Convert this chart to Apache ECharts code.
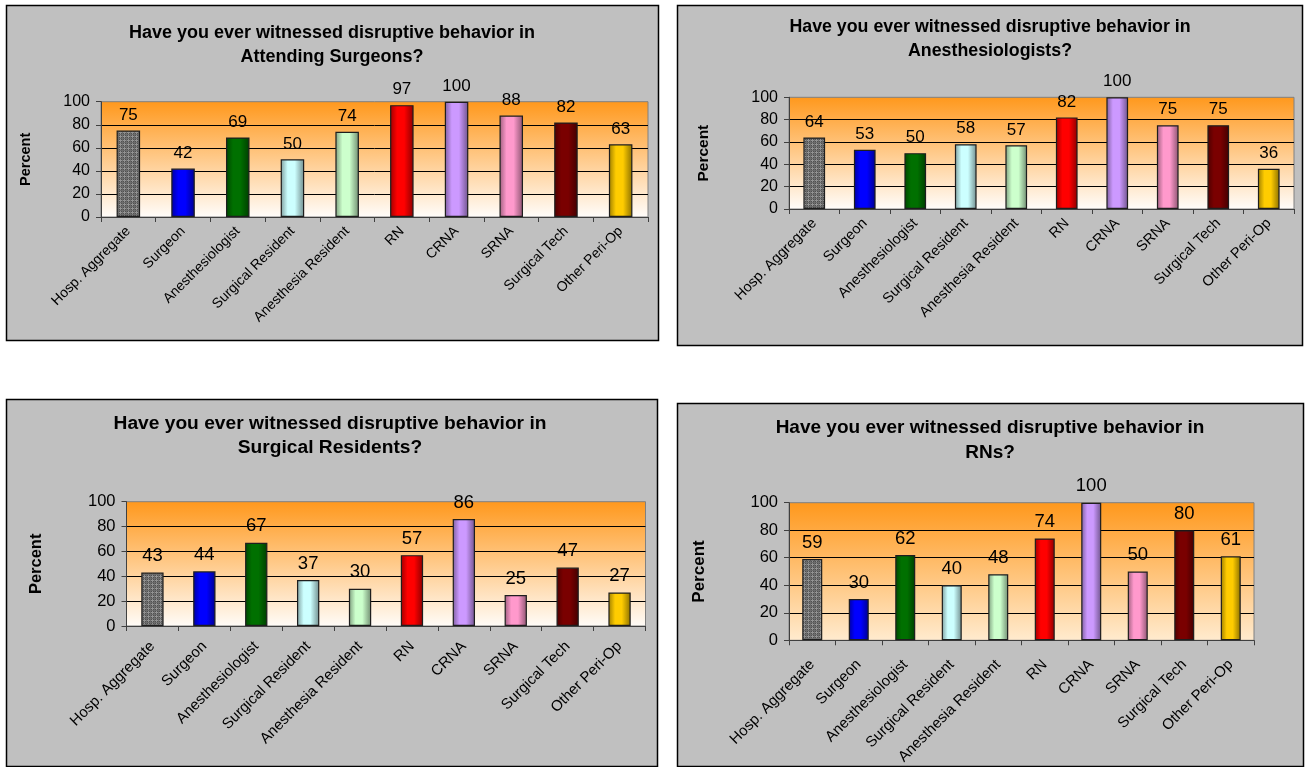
<!DOCTYPE html>
<html>
<head>
<meta charset="utf-8">
<title>Disruptive behavior survey</title>
<script src="https://cdn.jsdelivr.net/npm/echarts@6/dist/echarts.min.js"></script>
<style>
  html, body { margin: 0; padding: 0; background: #ffffff; }
  #chart { width: 1305px; height: 767px; }
</style>
</head>
<body>
<div id="chart"></div>
<script>
// ---- data ----
const categories = ['Hosp. Aggregate', 'Surgeon', 'Anesthesiologist', 'Surgical Resident',
  'Anesthesia Resident', 'RN', 'CRNA', 'SRNA', 'Surgical Tech', 'Other Peri-Op'];

const attendingSurgeons = [75, 42, 69, 50, 74, 97, 100, 88, 82, 63];
const anesthesiologists = [64, 53, 50, 58, 57, 82, 100, 75, 75, 36];
const surgicalResidents = [43, 44, 67, 37, 30, 57, 86, 25, 47, 27];
const registeredNurses  = [59, 30, 62, 40, 48, 74, 100, 50, 80, 61];

const chartTitles = [
  'Have you ever witnessed disruptive behavior in\nAttending Surgeons?',
  'Have you ever witnessed disruptive behavior in\nAnesthesiologists?',
  'Have you ever witnessed disruptive behavior in\nSurgical Residents?',
  'Have you ever witnessed disruptive behavior in\nRNs?'
];
const yAxisName = 'Percent';
const yMin = 0, yMax = 100, yStep = 20;

// ---- styling ----
const FONT = '"Liberation Sans", Arial, Helvetica, sans-serif';
const barColors = ['#5a5a5a', '#0000ff', '#007000', '#ccffff', '#ccffcc',
  '#ff0000', '#cc99ff', '#ff99cc', '#7a0000', '#ffcc00'];

function shade(hex, f) {
  const n = parseInt(hex.slice(1), 16);
  const r = Math.round(((n >> 16) & 255) * f);
  const g = Math.round(((n >> 8) & 255) * f);
  const b = Math.round((n & 255) * f);
  return 'rgb(' + Math.min(r, 255) + ',' + Math.min(g, 255) + ',' + Math.min(b, 255) + ')';
}

function plaidPattern() {
  const c = document.createElement('canvas');
  c.width = 4; c.height = 4;
  const g = c.getContext('2d');
  g.fillStyle = '#505050'; g.fillRect(0, 0, 4, 4);
  g.fillStyle = '#929292'; g.fillRect(0, 0, 4, 1); g.fillRect(0, 0, 1, 4);
  g.fillStyle = '#6c6c6c'; g.fillRect(0, 2, 4, 1); g.fillRect(2, 0, 1, 4);
  return c;
}
const plaid = plaidPattern();

function barFill(i) {
  if (i === 0) return { image: plaid, repeat: 'repeat' };
  const base = barColors[i];
  return {
    type: 'linear', x: 0, y: 0, x2: 1, y2: 0,
    colorStops: [
      { offset: 0, color: shade(base, 0.62) },
      { offset: 0.3, color: base },
      { offset: 0.6, color: base },
      { offset: 1, color: shade(base, 0.55) }
    ]
  };
}

// panel frames, plot rectangles and text sizes
const panels = [
  { values: attendingSurgeons, frame: [6, 5, 652, 335], grid: [101, 101.7, 547, 115.3],
    titleX: 332, titleTop: 21, titleSize: 18, lineH: 24, tick: 16, cat: 14, catMargin: 12,
    val: 17, name: 14.5, nameGap: 68, bgEnd: '#fffdfb' },
  { values: anesthesiologists, frame: [677, 5, 625, 340], grid: [789, 97.3, 505, 111.7],
    titleX: 990, titleTop: 15.5, titleSize: 17.8, lineH: 23.5, tick: 16, cat: 14.5, catMargin: 12,
    val: 17, name: 15.5, nameGap: 77, bgEnd: '#fffdfb' },
  { values: surgicalResidents, frame: [6, 399, 651, 367], grid: [126.5, 501.7, 519, 124.3],
    titleX: 330, titleTop: 412, titleSize: 19.2, lineH: 24, tick: 16.5, cat: 15, catMargin: 18,
    val: 18.5, name: 16.5, nameGap: 82, bgEnd: '#fffcf8' },
  { values: registeredNurses, frame: [677, 403, 626, 363], grid: [789, 502.7, 465, 139.6],
    titleX: 990, titleTop: 415, titleSize: 19, lineH: 25, tick: 16.5, cat: 15, catMargin: 22,
    val: 18.5, name: 17, nameGap: 81, bgEnd: '#ffebcf' }
];

const option = {
  animation: false,
  backgroundColor: '#ffffff',
  graphic: panels.map(p => ({
    type: 'rect', z: -10, silent: true,
    shape: { x: p.frame[0] + 0.5, y: p.frame[1] + 0.5, width: p.frame[2], height: p.frame[3] },
    style: { fill: '#c0c0c0', stroke: '#000000', lineWidth: 1.5 }
  })),
  title: panels.map((p, i) => ({
    text: chartTitles[i],
    left: p.titleX, top: p.titleTop, textAlign: 'center', padding: 0,
    textStyle: { fontFamily: FONT, fontWeight: 'bold', fontSize: p.titleSize, lineHeight: p.lineH, color: '#000' }
  })),
  grid: panels.map(p => ({
    left: p.grid[0], top: p.grid[1], width: p.grid[2], height: p.grid[3],
    show: true, borderColor: '#808080', borderWidth: 1,
    backgroundColor: {
      type: 'linear', x: 0, y: 0, x2: 0, y2: 1,
      colorStops: [{ offset: 0, color: '#ff981c' }, { offset: 1, color: p.bgEnd }]
    },
    containLabel: false
  })),
  xAxis: panels.map((p, i) => ({
    type: 'category', gridIndex: i, data: categories,
    axisLine: { lineStyle: { color: '#404040', width: 1 } },
    axisTick: { show: true, length: 5, lineStyle: { color: '#404040' } },
    axisLabel: { rotate: 45, interval: 0, margin: p.catMargin, color: '#000', fontFamily: FONT, fontSize: p.cat },
    splitLine: { show: false }
  })),
  yAxis: panels.map((p, i) => ({
    type: 'value', gridIndex: i, min: yMin, max: yMax, interval: yStep,
    name: yAxisName, nameLocation: 'middle', nameRotate: 90, nameGap: p.nameGap,
    nameTextStyle: { fontFamily: FONT, fontWeight: 'bold', fontSize: p.name, color: '#000' },
    axisLine: { show: true, lineStyle: { color: '#404040', width: 1 } },
    axisTick: { show: true, length: 5, lineStyle: { color: '#404040' } },
    axisLabel: { margin: 11, color: '#000', fontFamily: FONT, fontSize: p.tick },
    splitLine: { show: true, showMaxLine: false, lineStyle: { color: '#000000', width: 1 } }
  })),
  series: panels.map((p, i) => ({
    type: 'bar', xAxisIndex: i, yAxisIndex: i, barWidth: '43%',
    data: p.values.map((v, k) => ({ value: v, itemStyle: { color: barFill(k) } })),
    itemStyle: { borderColor: '#1e1e1e', borderWidth: 1.2 },
    label: { show: true, position: 'top', distance: 7, color: '#000', fontFamily: FONT, fontSize: p.val },
    emphasis: { disabled: true }
  }))
};

const chart = echarts.init(document.getElementById('chart'), null, { renderer: 'canvas' });
chart.setOption(option);
</script>
</body>
</html>
